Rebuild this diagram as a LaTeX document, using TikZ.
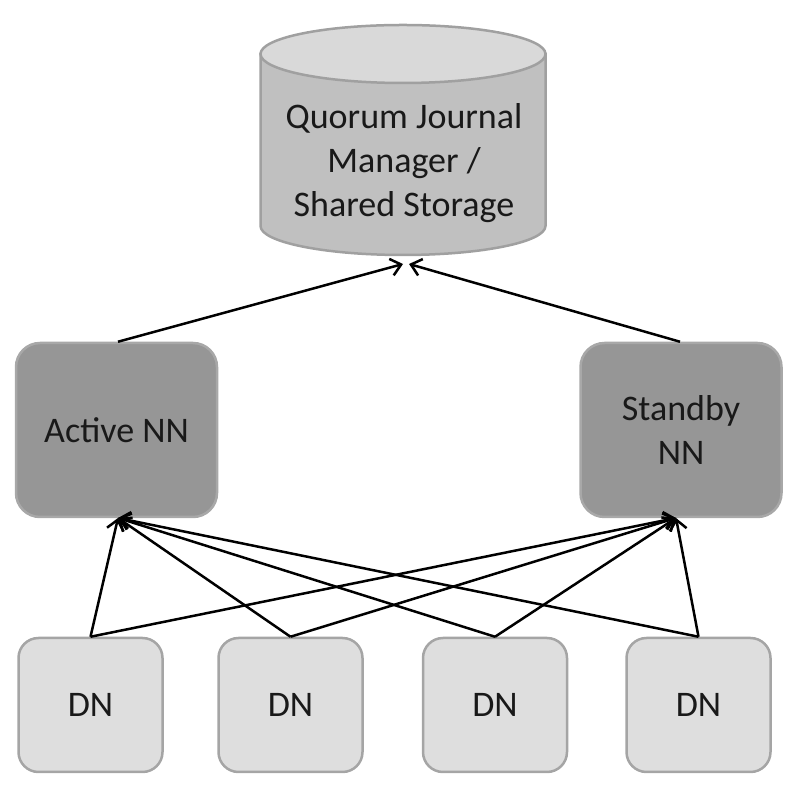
\documentclass[tikz,border=0pt]{standalone}
\usepackage{fontspec}
\setmainfont{Carlito}
\usetikzlibrary{arrows.meta}
\definecolor{cylbody}{RGB}{192,192,192}
\definecolor{cyltop}{RGB}{217,217,217}
\definecolor{cylline}{RGB}{160,160,160}
\definecolor{nnfill}{RGB}{150,150,150}
\definecolor{nnline}{RGB}{168,168,168}
\definecolor{dnfill}{RGB}{222,222,222}
\definecolor{dnline}{RGB}{165,165,165}
\definecolor{txt}{RGB}{25,25,25}
\tikzset{
  nnbox/.style={draw=nnline, line width=2.5pt, fill=nnfill, rounded corners=24pt,
    minimum width=201pt, minimum height=174pt, align=center, text=txt,
    font=\fontsize{36}{44}\selectfont, inner sep=0pt},
  dnbox/.style={draw=dnline, line width=2.5pt, fill=dnfill, rounded corners=20pt,
    minimum width=144pt, minimum height=134pt, align=center, text=txt,
    font=\fontsize{36}{44}\selectfont, inner sep=0pt},
  link/.style={draw=black, line width=2.5pt, -{Straight Barb[length=10pt,width=17pt,line width=2.5pt]}},
}
\begin{document}
\begin{tikzpicture}[x=1pt,y=1pt]
\useasboundingbox (0,0) rectangle (800,800);
% cylinder
\draw[cylline, line width=2.5pt, fill=cylbody]
  (260.5,746) -- (260.5,574) arc[start angle=180,end angle=360,x radius=142.5,y radius=29]
  -- (545.5,746) -- cycle;
\draw[cylline, line width=2.5pt, fill=cyltop] (403,746) ellipse[x radius=142.5, y radius=29];
\node[align=center, text=txt, font=\fontsize{36}{44}\selectfont] (qjm) at (404,637)
  {Quorum Journal\\Manager /\\Shared Storage};
\coordinate (jl) at (403,536);
\coordinate (jr) at (409,536);
% name nodes
\node[nnbox] (act) at (116.5,370) {Active NN};
\node[nnbox] (sb) at (681,370) {Standby\\NN};
% data nodes
\node[dnbox] (d1) at (90.5,95) {DN};
\node[dnbox] (d2) at (290.5,95) {DN};
\node[dnbox] (d3) at (495,95) {DN};
\node[dnbox] (d4) at (698.5,95) {DN};
\coordinate (as) at (118,282);
\coordinate (ss) at (676,282);
% connectors
\draw[link] ([xshift=1.5pt]act.north) -- (jl);
\draw[link] ([xshift=-1pt]sb.north) -- (jr);
\foreach \d in {d1,d2,d3,d4}{
  \draw[link] (\d.north) -- (as);
  \draw[link] (\d.north) -- (ss);
}
\end{tikzpicture}
\end{document}
